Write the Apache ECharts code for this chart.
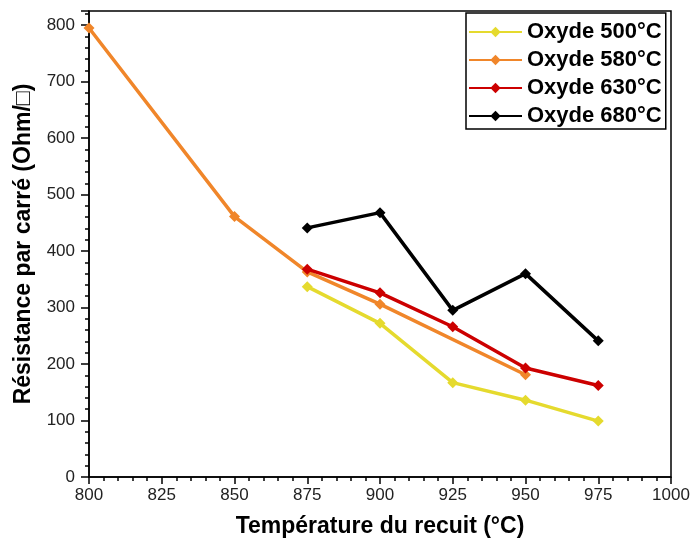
<!DOCTYPE html>
<html><head><meta charset="utf-8">
<script src="https://cdn.jsdelivr.net/npm/echarts@6/dist/echarts.min.js"></script>
<style>html,body{margin:0;padding:0;background:#fff}#c{width:694px;height:543px}</style>
</head><body><div id="c"></div>
<script>
const seriesNames = ['Oxyde 500°C', 'Oxyde 580°C', 'Oxyde 630°C', 'Oxyde 680°C'];
const colors = ['#E5DA2E', '#F0862A', '#CC0000', '#000000'];
const x500 = [875, 900, 925, 950, 975];
const y500 = [337, 272, 167, 136, 99];
const x580 = [800, 850, 875, 900, 950];
const y580 = [795, 461, 363, 306, 181];
const x630 = [875, 900, 925, 950, 975];
const y630 = [368, 326, 266, 193, 162];
const x680 = [875, 900, 925, 950, 975];
const y680 = [441, 468, 295, 360, 241];
const xs = [x500, x580, x630, x680];
const ys = [y500, y580, y630, y680];

const font = '"Liberation Sans", Arial, sans-serif';
const chart = echarts.init(document.getElementById('c'));
const series = seriesNames.map((n, i) => ({
  name: n, type: 'line',
  data: xs[i].map((x, j) => [x, ys[i][j]]),
  symbol: 'diamond', symbolSize: 11,
  lineStyle: { width: 3.5, color: colors[i] },
  itemStyle: { color: colors[i] },
  z: 2 + i
}));
chart.setOption({
  animation: false,
  grid: { left: 89, right: 23, top: 11, bottom: 63, show: true, borderColor: '#000', borderWidth: 1.5 },
  legend: {
    orient: 'vertical', left: 466, top: 13,
    data: seriesNames,
    itemWidth: 53, itemHeight: 13, itemGap: 6,
    borderColor: '#000', borderWidth: 1.5, padding: [8, 4, 2, 2],
    textStyle: { fontFamily: font, fontSize: 22, fontWeight: 'bold', color: '#000' }
  },
  xAxis: {
    type: 'value', min: 800, max: 1000, interval: 25,
    name: 'Température du recuit (°C)', nameLocation: 'middle', nameGap: 38,
    nameTextStyle: { fontFamily: font, fontSize: 23, fontWeight: 'bold', color: '#000' },
    axisLine: { lineStyle: { color: '#000', width: 1.5 } },
    axisTick: { length: 7, lineStyle: { color: '#000', width: 1.5 } },
    minorTick: { show: true, splitNumber: 5, length: 4, lineStyle: { color: '#000', width: 1.5 } },
    splitLine: { show: false },
    axisLabel: { fontFamily: font, fontSize: 17, color: '#222', margin: 10, formatter: v => String(v) }
  },
  yAxis: {
    type: 'value', min: 0, max: 825, interval: 100,
    name: 'Résistance par carré (Ohm/□)', nameLocation: 'middle', nameGap: 54,
    nameTextStyle: { fontFamily: font, fontSize: 23, fontWeight: 'bold', color: '#000' },
    axisLine: { lineStyle: { color: '#000', width: 1.5 } },
    axisTick: { length: 8, lineStyle: { color: '#000', width: 1.5 } },
    minorTick: { show: true, splitNumber: 5, length: 4, lineStyle: { color: '#000', width: 1.5 } },
    splitLine: { show: false },
    axisLabel: { fontFamily: font, fontSize: 17, color: '#222', margin: 14,
      formatter: v => (v % 100 === 0 ? String(v) : '') }
  },
  series: series
});
</script></body></html>
